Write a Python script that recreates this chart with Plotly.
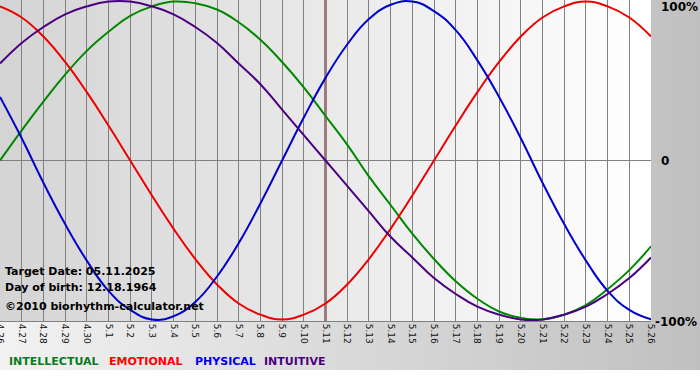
import base64
import plotly.graph_objects as go

# ---- data ----
day_labels = ["4.26", "4.27", "4.28", "4.29", "4.30", "5.1", "5.2", "5.3", "5.4", "5.5",
              "5.6", "5.7", "5.8", "5.9", "5.10", "5.11", "5.12", "5.13", "5.14", "5.15",
              "5.16", "5.17", "5.18", "5.19", "5.20", "5.21", "5.22", "5.23", "5.24", "5.25", "5.26"]

intellectual = [0.00, 0.19, 0.37, 0.54, 0.69, 0.81, 0.91, 0.97, 1.00, 0.99,
                0.95, 0.87, 0.76, 0.62, 0.46, 0.28, 0.10, -0.10, -0.28, -0.46,
                -0.62, -0.76, -0.87, -0.95, -0.99, -1.00, -0.97, -0.91, -0.81, -0.69, -0.54]
emotional = [0.97, 0.90, 0.78, 0.62, 0.43, 0.22, 0.00, -0.22, -0.43, -0.62,
             -0.78, -0.90, -0.97, -1.00, -0.97, -0.90, -0.78, -0.62, -0.43, -0.22,
             0.00, 0.22, 0.43, 0.62, 0.78, 0.90, 0.97, 1.00, 0.97, 0.90, 0.78]
physical = [0.40, 0.14, -0.14, -0.40, -0.63, -0.82, -0.94, -1.00, -0.98, -0.89,
            -0.73, -0.52, -0.27, 0.00, 0.27, 0.52, 0.73, 0.89, 0.98, 1.00,
            0.94, 0.82, 0.63, 0.40, 0.14, -0.14, -0.40, -0.63, -0.82, -0.94, -1.00]
intuitive = [0.61, 0.74, 0.84, 0.92, 0.97, 1.00, 1.00, 0.97, 0.92, 0.84,
             0.74, 0.61, 0.48, 0.32, 0.16, 0.00, -0.16, -0.32, -0.48, -0.61,
             -0.74, -0.84, -0.92, -0.97, -1.00, -1.00, -0.97, -0.92, -0.84, -0.74, -0.61]

series_names = ["INTELLECTUAL", "EMOTIONAL", "PHYSICAL", "INTUITIVE"]
target_label = "5.11"
info_lines = ["Target Date: 05.11.2025", "Day of birth: 12.18.1964", "\u00a92010 biorhythm-calculator.net"]
pct_labels = ["100%", "0", "-100%"]
pct_values = [1, 0, -1]

# ---- styling ----
W, H = 700, 380
ML, MR, MT, MB = 0, 49, 0, 59
PW, PH = W - ML - MR, H - MT - MB

line_colors = ["#008800", "#ee0000", "#0000cc", "#4b0082"]
legend_colors = ["#0a7a1e", "#ff0000", "#0000ee", "#4b0082"]
FONT = "DejaVu Sans"

x = list(range(len(day_labels)))
series = [intellectual, emotional, physical, intuitive]


def grad_svg(c1, c2):
    svg = ('<svg xmlns="http://www.w3.org/2000/svg" width="100" height="100" preserveAspectRatio="none">'
           '<defs><linearGradient id="g" x1="0" y1="0" x2="1" y2="0">'
           f'<stop offset="0" stop-color="{c1}"/><stop offset="1" stop-color="{c2}"/>'
           '</linearGradient></defs><rect width="100" height="100" fill="url(#g)"/></svg>')
    return "data:image/svg+xml;base64," + base64.b64encode(svg.encode()).decode()


def px_x(p):
    return (p - ML) / PW


def px_y(p):
    return (MT + PH - p) / PH


fig = go.Figure()
for name, vals, col in zip(series_names, series, line_colors):
    fig.add_trace(go.Scatter(x=x, y=vals, mode="lines", name=name,
                             line=dict(color=col, width=2, shape="spline", smoothing=1.3),
                             showlegend=False, hoverinfo="skip"))

images = [
    dict(source=grad_svg("#f2f2f2", "#c0c0c0"), xref="paper", yref="paper",
         x=0, y=1, sizex=W / PW, sizey=370 / PH, sizing="stretch", layer="below",
         xanchor="left", yanchor="top"),
    dict(source=grad_svg("#d4d4d4", "#ffffff"), xref="paper", yref="paper",
         x=0, y=1, sizex=1, sizey=1, sizing="stretch", layer="below",
         xanchor="left", yanchor="top"),
]

annotations = []
for txt, ypx in zip(info_lines, [271, 287, 306]):
    annotations.append(dict(text="<b>%s</b>" % txt, xref="paper", yref="paper",
                            x=px_x(3), y=px_y(ypx), xanchor="left", yanchor="middle",
                            showarrow=False, font=dict(family=FONT, size=11, color="#000000")))
for txt, v in zip(pct_labels, pct_values):
    ypx = {1: 7, 0: 161, -1: 322}[v]
    xpx = 653 if v == -1 else 659
    annotations.append(dict(text="<b>%s</b>" % txt, xref="paper", yref="paper",
                            x=px_x(xpx), y=px_y(ypx), xanchor="left", yanchor="middle",
                            showarrow=False, font=dict(family=FONT, size=12, color="#000000")))
for name, col, xpx in zip(series_names, legend_colors, [7, 107, 193, 262]):
    annotations.append(dict(text="<b>%s</b>" % name, xref="paper", yref="paper",
                            x=px_x(xpx), y=px_y(362), xanchor="left", yanchor="middle",
                            showarrow=False, font=dict(family=FONT, size=11, color=col)))

tx = day_labels.index(target_label)
shapes = [dict(type="line", xref="x", yref="paper", x0=tx, x1=tx, y0=0, y1=1,
               line=dict(color="#6e0c0c", width=2), layer="between")]

fig.update_layout(
    template="none",
    width=W, height=H, autosize=False,
    margin=dict(l=ML, r=MR, t=MT, b=MB, pad=0, autoexpand=False),
    paper_bgcolor="#ffffff", plot_bgcolor="rgba(0,0,0,0)",
    images=images, annotations=annotations, shapes=shapes,
    xaxis=dict(range=[0, len(day_labels) - 1], tickvals=x, ticktext=day_labels,
               tickangle=90, tickfont=dict(family=FONT, size=9, color="#111111"),
               ticklabeloverflow="allow", automargin=False,
               showgrid=True, gridcolor="#808080", gridwidth=1, zeroline=False,
               showline=True, linecolor="#808080", linewidth=1, ticks="", fixedrange=True),
    yaxis=dict(range=[-1.01, 1.01], tickvals=[0], showticklabels=False, automargin=False,
               showgrid=True, gridcolor="#808080", gridwidth=1, zeroline=False,
               showline=False, ticks="", fixedrange=True),
)

fig.write_html("out.html", config={"displayModeBar": False},
               post_script="document.body.style.margin='0';")
